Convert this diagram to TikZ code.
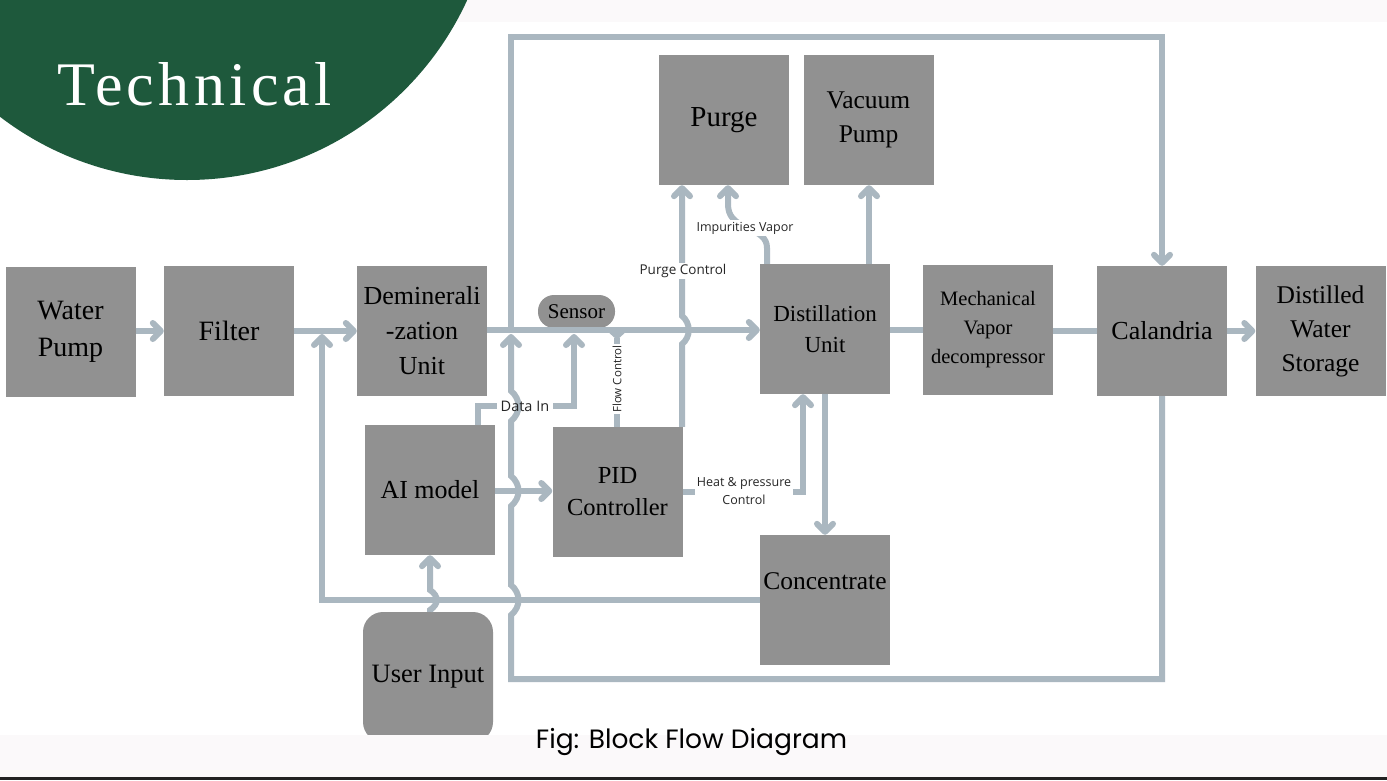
\documentclass[tikz,border=0pt]{standalone}
\usepackage{fontspec}
\setmainfont{Liberation Serif}
\newfontfamily\lblfont{Open Sans}
\newfontfamily\capfont{Poppins}
\newfontfamily\techfont[LetterSpace=7]{Liberation Serif}
\usetikzlibrary{arrows.meta}
\definecolor{boxgray}{RGB}{145,145,145}
\definecolor{linec}{RGB}{170,183,192}
\definecolor{darkgreen}{RGB}{30,89,60}
\definecolor{bandc}{RGB}{251,249,250}
\definecolor{rulec}{RGB}{34,34,34}
\tikzset{
  box/.style={fill=boxgray, inner sep=0pt, minimum width=130pt, minimum height=130pt, align=center, text=black},
  con/.style={draw=linec, line width=6pt},
  arr/.style={-{Straight Barb[length=8pt,width=16pt,round]}},
  flare/.style={-{Triangle[reversed,length=7pt,width=15pt]}},
  lbl/.style={font=\lblfont\fontsize{13}{17}\selectfont, inner sep=1.5pt, align=center, text=black!85},
}
\begin{document}
\begin{tikzpicture}[x=1pt,y=-1pt]
\useasboundingbox (0,0) rectangle (1387,780);
\fill[white] (0,0) rectangle (1387,780);
\fill[bandc] (0,0) rectangle (1387,22);
\fill[darkgreen] (187,-128) circle[radius=308];
\node[anchor=base west, inner sep=0pt, text=white, font=\techfont\fontsize{62}{70}\selectfont] (tech) at (57,105) {Technical};

% boxes
\node[box, font=\fontsize{28}{37}\selectfont] (wp) at (70.5,332) {Water\\Pump};
\node[box, font=\fontsize{28}{34}\selectfont] (filter) at (229,331) {Filter};
\node[box, font=\fontsize{26}{35}\selectfont] (demin) at (422,331) {Deminerali\\-zation\\Unit};
\node[box, rounded corners=16pt, minimum width=77pt, minimum height=33pt, font=\fontsize{21}{24}\selectfont] (sensor) at (576.5,311.5) {Sensor};
\node[box, font=\fontsize{26}{32}\selectfont] (ai) at (430,490) {AI model};
\node[box, font=\fontsize{24.5}{32}\selectfont] (pid) at (617.5,492) {PID\\Controller};
\node[box, rounded corners=20pt, font=\fontsize{26.5}{32}\selectfont] (user) at (428,677) {User Input};
\node[box, font=\fontsize{29}{34}\selectfont] (purge) at (724,120) {Purge};
\node[box, font=\fontsize{25.5}{34}\selectfont] (vac) at (868.5,120) {Vacuum\\Pump};
\node[box, font=\fontsize{23}{31}\selectfont] (dist) at (825,329) {Distillation\\Unit};
\node[box, font=\fontsize{20.5}{29}\selectfont] (mech) at (988,329.5) {Mechanical\\Vapor\\decompressor};
\node[box, font=\fontsize{26}{32}\selectfont] (cal) at (1162,331) {Calandria};
\node[box, font=\fontsize{25.5}{34}\selectfont] (dws) at (1320.5,331) {Distilled\\Water\\Storage};
\node[box] (conc) at (825,600) {};
\node[font=\fontsize{25.5}{30}\selectfont, inner sep=0pt] (conctext) at (825,581) {Concentrate};

% main flow
\draw[con,arr] (wp.east |- 0,331) -- (filter.west |- 0,331);
\draw[con,arr] (filter.east) -- (demin.west);
\draw[con,arr] (demin.east |- 0,330) -- (dist.west |- 0,330);
\draw[con] (dist.east |- 0,330) -- (mech.west |- 0,330);
\draw[con] (mech.east |- 0,331) -- (cal.west |- 0,331);
\draw[con,arr] (cal.east) -- (dws.west);

% concentrate return
\coordinate (fd) at (322,334);
\draw[con,arr] (conc.west) -- (322,600) -- (fd);

% big loop
\coordinate (lj) at (511,334);
\coordinate (uj) at (511,330);
\draw[con,arr] (cal.south) -- (1162,679) -- (511,679) -- (511,615) .. controls (521,607) and (521,593) .. (511,585)
  -- (511,506) .. controls (521,498) and (521,484) .. (511,476)
  -- (511,421) .. controls (521,413) and (521,399) .. (511,391) -- (lj);
\draw[con,arr] (uj) -- (511,37) -- (1162,37) -- (cal.north);

% data in
\node[lbl, font=\lblfont\fontsize{14.5}{17}\selectfont, inner sep=4pt] (datain) at (525,406) {Data In};
\coordinate (sj) at (574,334);
\draw[con] (ai.north -| 478,0) -- (478,406) -- (datain.west);
\draw[con,arr] (datain.east) -- (574,406) -- (sj);

% flow control
\coordinate (fj) at (617,333);
\draw[con,flare] (pid.north -| 617,0) -- (fj);
\node[lbl, fill=white, rotate=90, font=\lblfont\fontsize{11.5}{14}\selectfont] (flowlbl) at (617,379) {Flow Control};

% purge control
\draw[con,arr] (pid.north -| 682,0) -- (682,344) .. controls (691,337) and (691,323) .. (682,316) -- (purge.south -| 682,0);
\node[lbl, fill=white, font=\lblfont\fontsize{13.5}{17}\selectfont] (purgelbl) at (683,271) {Purge Control};

% impurities vapor
\draw[con,arr] (dist.north -| 767,0) -- (767,248) .. controls (767,238) and (760,234) .. (748,228) .. controls (734,222) and (728,216) .. (728,204) -- (purge.south -| 728,0);
\node[lbl, fill=white, font=\lblfont\fontsize{12.5}{17}\selectfont] (implbl) at (745,228) {Impurities Vapor};

% vacuum
\draw[con,arr] (dist.north -| 869,0) -- (vac.south -| 869,0);

% heat & pressure
\draw[con,arr] (pid.east |- 0,492) -- (803,492) -- (dist.south -| 803,0);
\node[lbl, fill=white, font=\lblfont\fontsize{12.5}{18}\selectfont] (heatlbl) at (744,491) {Heat \& pressure\\Control};

% distillation to concentrate
\draw[con,arr] (dist.south) -- (conc.north);

% ai to pid
\draw[con,arr] (ai.east |- 0,491) -- (pid.west |- 0,491);

% user to ai
\draw[con,arr] (user.north -| 430,0) -- (430,610) .. controls (439,604) and (439,596) .. (430,590) -- (ai.south -| 430,0);

% bottom band and caption
\fill[bandc] (0,735) rectangle (1387,777);
\fill[rulec] (0,777) rectangle (1387,780);
\node[font=\capfont\fontsize{26.5}{30}\selectfont, text=black] (cap) at (691.5,742) {Fig: Block Flow Diagram};
\end{tikzpicture}
\end{document}
